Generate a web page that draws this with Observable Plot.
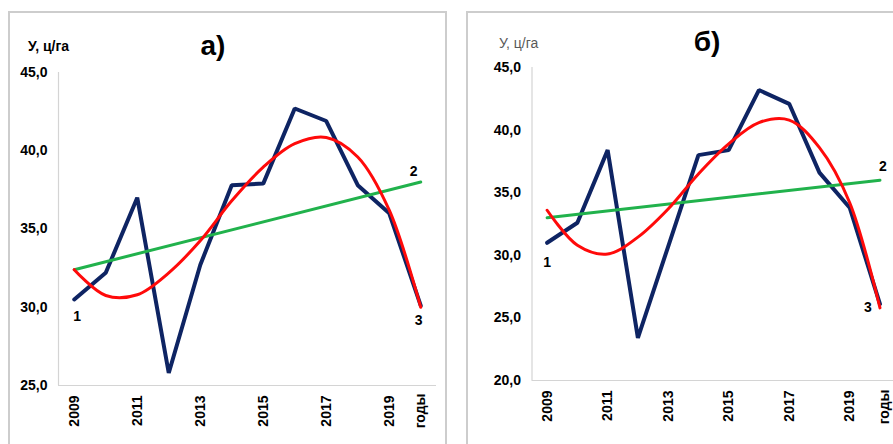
<!DOCTYPE html>
<html>
<head>
<meta charset="utf-8">
<script src="https://cdn.jsdelivr.net/npm/d3@7"></script>
<script src="https://cdn.jsdelivr.net/npm/@observablehq/plot@0.6"></script>
<style>
  html, body { margin: 0; padding: 0; background: #fff; }
  body { width: 893px; height: 444px; overflow: hidden; position: relative;
         font-family: "Liberation Sans", Arial, sans-serif; }
  .frame { position: absolute; border: 2px solid #cdcdcd; box-sizing: border-box; background: #fff; }
  .chart { position: absolute; top: 0; }
  .title { position: absolute; font-size: 28px; font-weight: bold; line-height: 1; transform: translateX(-50%); color: #000; }
  .unit { position: absolute; font-size: 14px; line-height: 1; white-space: nowrap; }
</style>
</head>
<body>
<div class="frame" style="left:8px;top:11px;width:439px;height:460px"></div>
<div class="frame" style="left:466px;top:11px;width:460px;height:460px"></div>
<div id="a" class="chart" style="left:0px"></div>
<div id="b" class="chart" style="left:450px"></div>
<div class="title" style="left:213px;top:32px">а)</div>
<div class="title" style="left:707px;top:28px">б)</div>
<div class="unit" style="left:28px;top:39px;font-weight:bold;color:#000">У, ц/га</div>
<div class="unit" style="left:499px;top:36px;color:#595959">У, ц/га</div>
<script>
// Years of observation
const years = [2009, 2010, 2011, 2012, 2013, 2014, 2015, 2016, 2017, 2018, 2019, 2020];
const yearTicks = [2009, 2011, 2013, 2015, 2017, 2019];
const axisWord = "годы";

// а) actual yield (1), linear trend ends (2), polynomial trend (3)
const yieldA = [30.5, 32.2, 37.0, 25.8, 32.7, 37.8, 37.9, 42.7, 41.9, 37.8, 36.0, 30.1];
const trendA = [32.4, 38.0];
const polyA  = [32.4, 30.75, 30.8, 32.2, 34.25, 36.8, 38.95, 40.45, 40.85, 39.6, 36.2, 30.0];
const yTicksA = [25, 30, 35, 40, 45];

// б) actual yield (1), linear trend ends (2), polynomial trend (3)
const yieldB = [31.0, 32.6, 38.4, 23.4, 30.7, 38.0, 38.4, 43.2, 42.1, 36.6, 33.8, 26.1];
const trendB = [33.0, 36.0];
const polyB  = [33.6, 30.8, 30.1, 31.45, 33.7, 36.5, 38.9, 40.6, 40.8, 38.6, 34.2, 25.8];
const yTicksB = [20, 25, 30, 35, 40, 45];

const trendYears = [years[0], years[years.length - 1]];
const fmt = d => d.toFixed(1).replace(".", ",");

function panel(o) {
  const actual = years.map((x, i) => ({x, y: o.yields[i]}));
  const poly = years.map((x, i) => ({x, y: o.poly[i]}));
  const trend = trendYears.map((x, i) => ({x, y: o.trend[i]}));
  const last = years.length - 1;
  return Plot.plot({
    width: o.width,
    height: 444,
    marginLeft: o.ml, marginRight: o.mr, marginTop: o.mt, marginBottom: o.mb,
    style: {background: "transparent", overflow: "visible", fontSize: "14px", fontWeight: "bold",
            fontFamily: "'Liberation Sans', Arial, sans-serif", color: "#000", maxWidth: "none"},
    x: {domain: [years[0] - 0.5, years[last] + 0.5], ticks: yearTicks, tickFormat: d => String(d),
        tickRotate: -90, tickSize: 0, tickPadding: 10, label: null},
    y: {domain: [o.yTicks[0], o.yTicks[o.yTicks.length - 1]], ticks: o.yTicks, tickFormat: fmt,
        tickSize: 0, tickPadding: 11, label: null},
    marks: [
      Plot.ruleX([years[0] - 0.5], {stroke: "#d4d4d4", strokeWidth: 1.2}),
      Plot.ruleY([o.yTicks[0]], {stroke: "#d4d4d4", strokeWidth: 1.2}),
      Plot.line(actual, {x: "x", y: "y", stroke: "#0e2463", strokeWidth: 4, strokeLinejoin: "miter"}),
      Plot.line(trend, {x: "x", y: "y", stroke: "#21b24c", strokeWidth: 3}),
      Plot.line(poly, {x: "x", y: "y", stroke: "#ff0a0a", strokeWidth: 3, curve: "catmull-rom"}),
      Plot.text([years[last]], {x: d => d, frameAnchor: "bottom", text: () => axisWord, rotate: -90,
        textAnchor: "end", lineAnchor: "middle", dy: o.wordDy, dx: o.wordDx}),
      Plot.text([actual[0]], {x: "x", y: "y", text: () => "1", dx: o.l1[0], dy: o.l1[1]}),
      Plot.text([trend[1]], {x: "x", y: "y", text: () => "2", dx: o.l2[0], dy: o.l2[1]}),
      Plot.text([poly[last]], {x: "x", y: "y", text: () => "3", dx: o.l3[0], dy: o.l3[1]})
    ]
  });
}

document.getElementById("a").append(panel({
  yields: yieldA, trend: trendA, poly: polyA, yTicks: yTicksA,
  width: 446, ml: 58, mr: 10, mt: 72, mb: 59,
  wordDy: 8, wordDx: 0,
  l1: [3, 17], l2: [-7, -11], l3: [-2, 13]
}));

document.getElementById("b").append(panel({
  yields: yieldB, trend: trendB, poly: polyB, yTicks: yTicksB,
  width: 450, ml: 81.5, mr: 5.4, mt: 67, mb: 64,
  wordDy: 9, wordDx: 5,
  l1: [0, 20], l2: [3, -14], l3: [-12, 0]
}));
</script>
</body>
</html>
